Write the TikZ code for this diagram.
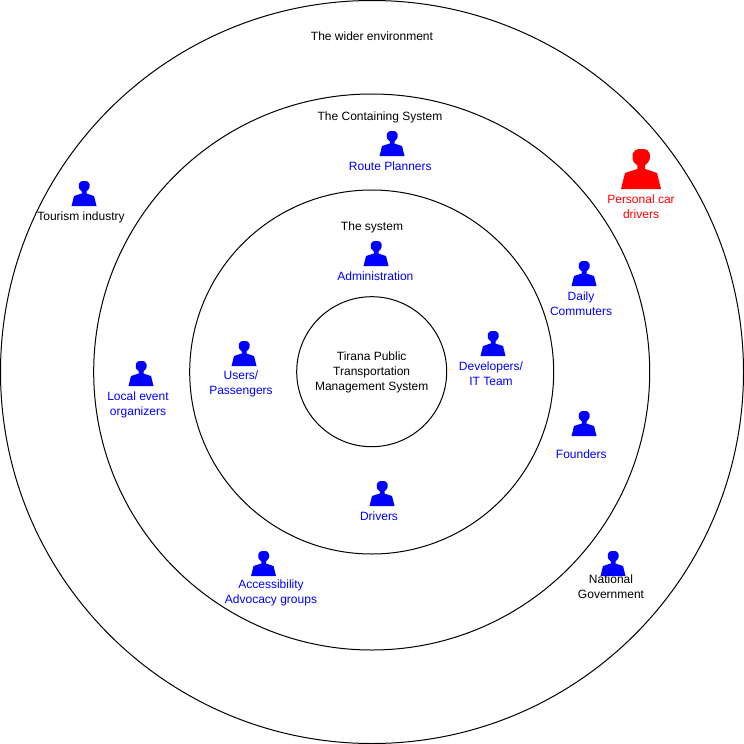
\documentclass[tikz,border=0pt]{standalone}
\usepackage{fontspec}
\setmainfont{Liberation Sans}
\definecolor{pblue}{RGB}{0,0,255}
\definecolor{pred}{RGB}{255,0,0}
\tikzset{
  ring/.style={circle,draw=black,line width=1pt,minimum size=#1,inner sep=0pt,outer sep=0pt},
  lab/.style={align=center,inner sep=0pt,font=\fontsize{12}{15}\selectfont,text=#1},
  lab/.default=black,
  personshape/.style={fill=#1,draw=none}
}
\newcommand{\stick}[4]{% cx, top y, size, colour
  \begin{scope}[shift={(#1-#3/2,#2)},x=#3pt,y=-#3pt]
    \fill[personshape=#4] (0,1) -- (.1,.6) -- (.41,.5) -- (.41,.41) -- (.32,.33) -- (.29,.25) -- (.29,.12) -- (.36,.03) -- (.44,0) -- (.58,0) -- (.66,.03) -- (.72,.12) -- (.72,.25) -- (.68,.33) -- (.6,.41) -- (.6,.5) -- (.9,.6) -- (1,1) -- cycle;
  \end{scope}}
\begin{document}
\begin{tikzpicture}[x=1pt,y=-1pt]
\useasboundingbox (0,0) rectangle (744,744);
\node[ring=743pt] (wider) at (372,372) {};
\node[ring=556pt] (containing) at (371.7,372) {};
\node[ring=364pt] (system) at (371.7,372) {};
\node[ring=150pt] (core) at (371.7,371.7) {};
\node[lab] (tcore) at (371.7,372) {Tirana Public\\Transportation\\Management System};
\node[lab] (twider) at (372,36) {The wider environment};
\node[lab] (tcont) at (380,117) {The Containing System};
\node[lab] (tsys) at (372,227) {The system};
\stick{392}{131}{25}{pblue}
\stick{376}{241}{25}{pblue}
\stick{244}{341}{25}{pblue}
\stick{493}{331}{25}{pblue}
\stick{382}{481}{25}{pblue}
\stick{584}{261}{25}{pblue}
\stick{584}{411}{25}{pblue}
\stick{141}{361}{25}{pblue}
\stick{263.5}{551}{25}{pblue}
\stick{613}{551}{25}{pblue}
\stick{84}{181}{25}{pblue}
\stick{641}{149}{40}{pred}
\node[lab=pblue] (troute) at (390.3,166) {Route Planners};
\node[lab=pblue] (tadmin) at (375.4,276) {Administration};
\node[lab=pblue] (tusers) at (241,384) {Users/\\Passengers};
\node[lab=pblue] (tdev) at (491,374) {Developers/\\IT Team};
\node[lab=pblue] (tdrv) at (379,516) {Drivers};
\node[lab=pblue] (tdaily) at (581,304) {Daily\\Commuters};
\node[lab=pblue] (tfound) at (581.3,454) {Founders};
\node[lab=pblue] (tlocal) at (138,405) {Local event\\organizers};
\node[lab=pblue] (tacc) at (271,593) {Accessibility\\Advocacy groups};
\node[lab] (tnat) at (611,587) {National\\Government};
\node[lab] (ttour) at (81,217) {Tourism industry};
\node[lab=pred] (tpers) at (641,207) {Personal car\\drivers};
\end{tikzpicture}
\end{document}
